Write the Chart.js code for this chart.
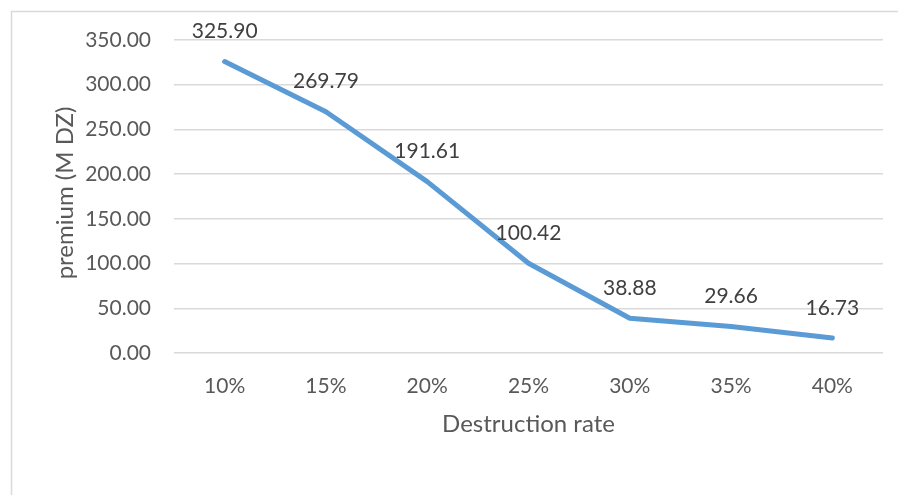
<!DOCTYPE html>
<html>
<head>
<meta charset="utf-8">
<script src="https://cdn.jsdelivr.net/npm/chart.js@4/dist/chart.umd.min.js"></script>
<style>
  html, body { margin: 0; padding: 0; background: #ffffff; }
  #wrap { position: relative; width: 898px; height: 495px; }
</style>
</head>
<body>
<div id="wrap"><canvas id="c" width="898" height="495"></canvas></div>
<script>
// Premium by destruction rate
const categories = ['10%', '15%', '20%', '25%', '30%', '35%', '40%'];
const premium = [325.90, 269.79, 191.61, 100.42, 38.88, 29.66, 16.73];
const yTicks = [0, 50, 100, 150, 200, 250, 300, 350];

const FONT = 'Lato, "Open Sans", sans-serif';
const TEXT = '#595959';

// Frame lines, axis titles and value labels
const decor = {
  id: 'decor',
  beforeDraw(chart) {
    const ctx = chart.ctx;
    ctx.save();
    ctx.strokeStyle = '#d9d9d9';
    ctx.lineWidth = 1.5;
    ctx.beginPath();
    ctx.moveTo(11.5, 495);
    ctx.lineTo(11.5, 11.5);
    ctx.lineTo(898, 11.5);
    ctx.stroke();
    ctx.restore();
  },
  afterDatasetsDraw(chart) {
    const ctx = chart.ctx;
    const area = chart.chartArea;
    ctx.save();
    ctx.fillStyle = TEXT;
    ctx.font = '24px ' + FONT;
    ctx.textAlign = 'center';
    ctx.textBaseline = 'middle';
    ctx.fillText('Destruction rate', (area.left + area.right) / 2, 424);
    ctx.translate(65, 193);
    ctx.rotate(-Math.PI / 2);
    ctx.fillText('premium (M DZ)', 0, 0);
    ctx.restore();

    ctx.save();
    ctx.fillStyle = '#404040';
    ctx.font = '21px ' + FONT;
    ctx.textAlign = 'center';
    ctx.textBaseline = 'middle';
    const meta = chart.getDatasetMeta(0);
    meta.data.forEach((pt, i) => {
      ctx.fillText(premium[i].toFixed(2), pt.x, pt.y - 30);
    });
    ctx.restore();
  }
};

new Chart(document.getElementById('c'), {
  type: 'line',
  data: {
    labels: categories,
    datasets: [{
      data: premium,
      borderColor: '#5b9bd5',
      borderWidth: 5,
      borderCapStyle: 'round',
      borderJoinStyle: 'round',
      pointRadius: 0,
      pointHoverRadius: 0,
      tension: 0,
      fill: false
    }]
  },
  options: {
    responsive: false,
    animation: false,
    events: [],
    layout: { padding: { top: 40, right: 15, bottom: 0, left: 0 } },
    plugins: { legend: { display: false }, tooltip: { enabled: false } },
    scales: {
      x: {
        offset: true,
        grid: { display: false },
        border: { display: false },
        ticks: { color: TEXT, font: { family: FONT, size: 21 }, padding: 13, maxRotation: 0 },
        afterFit(scale) { scale.height = 142; }
      },
      y: {
        min: 0,
        max: 350,
        afterBuildTicks(scale) { scale.ticks = yTicks.map(v => ({ value: v })); },
        grid: { color: '#d9d9d9', lineWidth: 1.5, drawTicks: false },
        border: { display: false },
        ticks: {
          color: TEXT,
          font: { family: FONT, size: 21 },
          padding: 23,
          callback: v => Number(v).toFixed(2)
        },
        afterFit(scale) { scale.width = 174; }
      }
    }
  },
  plugins: [decor]
});
</script>
</body>
</html>
